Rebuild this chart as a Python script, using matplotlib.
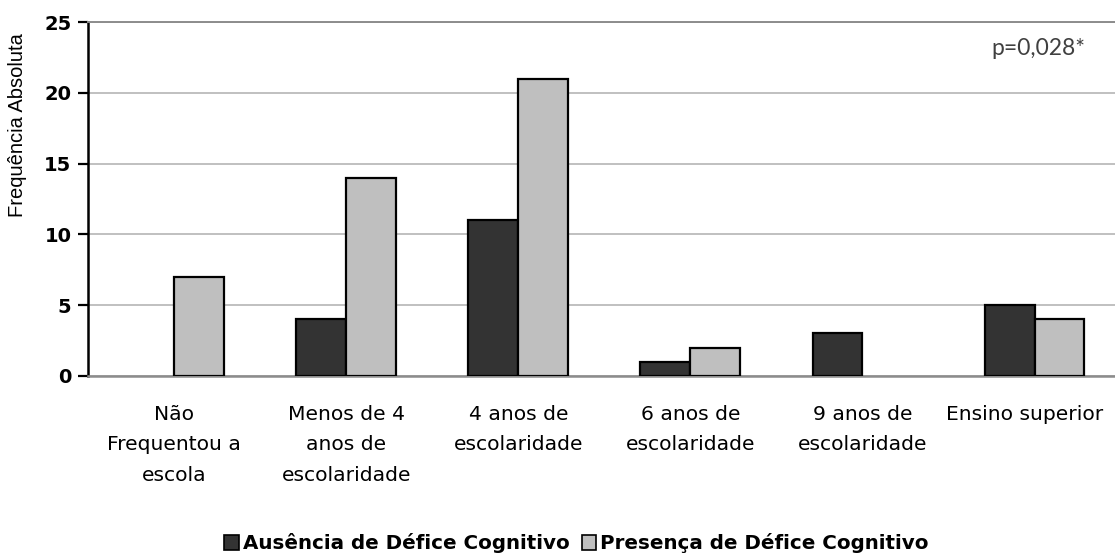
import matplotlib
matplotlib.use("Agg")
import matplotlib.pyplot as plt
import matplotlib.transforms as mtransforms
import numpy as np
from matplotlib.patches import Patch

categories = ["Não\nFrequentou a\nescola", "Menos de 4\nanos de\nescolaridade",
              "4 anos de\nescolaridade", "6 anos de\nescolaridade",
              "9 anos de\nescolaridade", "Ensino superior"]
ausencia = [0, 4, 11, 1, 3, 5]
presenca = [7, 14, 21, 2, 0, 4]
series_names = ["Ausência de Défice Cognitivo", "Presença de Défice Cognitivo"]
yticks = [0, 5, 10, 15, 20, 25]

fig = plt.figure(figsize=(11.15, 5.56), dpi=100)
ax = fig.add_axes([0.079, 0.324, 0.926, 0.636])

x = np.arange(len(categories))
w = 0.29
dark = "#333333"
light = "#bfbfbf"

def edges(vals):
    return ["black" if v > 0 else "none" for v in vals]

ax.bar(x - w/2, ausencia, w, color=dark, edgecolor=edges(ausencia), linewidth=1.6, zorder=3)
ax.bar(x + w/2, presenca, w, color=light, edgecolor=edges(presenca), linewidth=1.6, zorder=3)

ax.set_xlim(-0.5, len(categories) - 0.5)
ax.set_ylim(0, 25)
ax.set_yticks(yticks)
ax.set_yticklabels([str(t) for t in yticks], fontfamily="DejaVu Sans", fontweight="bold", fontsize=14)
ax.yaxis.grid(True, color="#c0c0c0", linewidth=1.4, zorder=0)
ax.set_axisbelow(True)

ax.set_xticks(x)
ax.set_xticklabels(categories, fontfamily="DejaVu Sans", fontsize=14.6, linespacing=1.75)
ax.tick_params(axis="x", length=0, pad=21)
ax.tick_params(axis="y", length=7, width=1.6, color="black", pad=5)

last = ax.get_xticklabels()[-1]
last.set_transform(last.get_transform() +
                   mtransforms.ScaledTranslation(-10 / 100, 0, fig.dpi_scale_trans))

ax.spines["right"].set_visible(False)
ax.spines["left"].set_color("black")
ax.spines["left"].set_linewidth(1.8)
ax.spines["bottom"].set_color("#8c8c8c")
ax.spines["bottom"].set_linewidth(1.8)
ax.spines["top"].set_color("#8c8c8c")
ax.spines["top"].set_linewidth(1.4)

ax.set_ylabel("Frequência Absoluta", fontfamily="Liberation Sans", fontsize=14.5)
ax.yaxis.set_label_coords(-0.059, 0.71)

ax.text(0.966, 0.925, "p=0,028*", transform=ax.transAxes, ha="right", va="center",
        fontfamily="Lato", fontsize=16.5, color="#404040")

handles = [Patch(facecolor=dark, edgecolor="black", linewidth=1.2),
           Patch(facecolor=light, edgecolor="black", linewidth=1.2)]
fig.legend(handles, series_names, loc="center", bbox_to_anchor=(0.517, 0.023),
           ncol=2, frameon=False, prop={"family": "DejaVu Sans", "weight": "bold", "size": 14.3},
           handlelength=0.75, handleheight=0.75, handletextpad=0.2, columnspacing=0.6)

fig.savefig("out.png", dpi=100)
